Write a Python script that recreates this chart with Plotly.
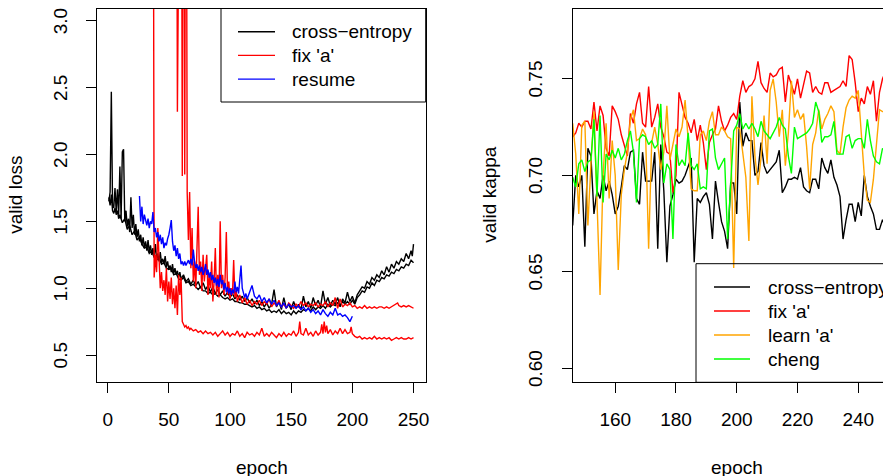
import plotly.graph_objects as go

# page pixels are mapped to figure pixels (page body has an 8px margin)
OFF = 8
W, H = 891 - OFF, 476 - OFF
FONT = "Liberation Sans, Arial, Helvetica, sans-serif"
FS = 19

# ---------------- left panel: valid loss ----------------
ce1_epoch = [1,2,3,4,5,6,7,8,9,10,11,12,13,14,15,16,17,18,19,20,21,22,23,24,25,26,27,28,29,30,
             31,32,33,34,35,36,37,38,39,40,41,42,43,44,45,46,47,48,49,50,51,52,53,54,55,56,57,58,59,60,
             62,64,66,68,70,72,74,76,78,80,82,84,86,88,90,92,94,96,98,100,102,104,106,108,110,112,114,116,118,120,
             122,124,126,128,130,132,134,136,138,140,142,144,146,148,150,152,154,156,158,160,162,164,166,168,170,
             172,174,176,178,180,182,184,186,188,190,192,194,196,198,200,202,204,206,208,210,212,214,216,218,220,
             222,224,226,228,230,232,234,236,238,240,242,244,246,248,249,250]
ce1_loss = [1.65,1.72,2.47,1.62,1.60,1.75,1.57,1.74,1.55,1.91,1.52,2.02,2.04,1.50,1.58,1.46,1.52,1.42,1.68,1.45,
            1.55,1.40,1.48,1.38,1.44,1.35,1.40,1.32,1.38,1.30,1.35,1.28,1.36,1.27,1.32,1.25,1.30,1.24,1.33,1.22,
            1.26,1.20,1.27,1.19,1.22,1.18,1.24,1.16,1.20,1.14,1.17,1.12,1.18,1.11,1.15,1.10,1.13,1.08,1.12,1.07,
            1.10,1.05,1.07,1.03,1.06,1.02,1.05,1.00,1.04,0.99,1.02,0.97,1.01,0.96,0.99,0.95,0.98,0.94,0.97,0.93,
            0.96,0.92,0.95,0.91,0.94,0.90,0.93,0.89,0.92,0.88,0.91,0.87,0.90,0.86,0.89,0.85,0.88,0.99,0.86,0.90,
            0.84,0.93,0.85,0.88,0.84,0.90,0.85,0.88,0.84,0.94,0.86,0.90,0.85,0.93,0.87,0.91,0.86,0.98,0.88,0.93,
            0.87,0.91,0.88,0.93,0.86,0.92,0.89,0.97,0.90,0.94,0.89,0.95,0.98,1.01,1.00,1.05,1.03,1.08,1.06,1.10,
            1.08,1.13,1.10,1.16,1.12,1.18,1.15,1.20,1.18,1.22,1.20,1.26,1.22,1.28,1.24,1.33]

ce2_epoch = [1,2,3,4,5,6,7,8,9,10,12,14,16,18,20,22,24,26,28,30,32,34,36,38,40,42,44,46,48,50,52,54,56,58,60,
             62,64,66,68,70,72,74,76,78,80,82,84,86,88,90,92,94,96,98,100,102,104,106,108,110,112,114,116,118,120,
             122,124,126,128,130,132,134,136,138,140,142,144,146,148,150,152,154,156,158,160,162,164,166,168,170,
             172,174,176,178,180,182,184,186,188,190,192,194,196,198,200,202,204,206,208,210,212,214,216,218,220,
             222,224,226,228,230,232,234,236,238,240,242,244,246,248,250]
ce2_loss = [1.68,1.62,1.70,1.58,1.56,1.60,1.55,1.58,1.52,1.55,1.49,1.52,1.44,1.47,1.40,1.43,1.36,1.38,1.33,1.30,
            1.31,1.26,1.28,1.23,1.21,1.23,1.18,1.19,1.15,1.14,1.15,1.10,1.11,1.07,1.06,1.08,1.04,1.05,1.02,1.03,
            1.01,0.99,1.01,0.98,0.98,0.96,0.97,0.95,0.96,0.94,0.95,0.93,0.92,0.93,0.91,0.92,0.90,0.90,0.89,0.89,
            0.88,0.88,0.87,0.86,0.87,0.85,0.86,0.84,0.85,0.83,0.84,0.82,0.83,0.82,0.84,0.81,0.83,0.81,0.82,0.80,
            0.83,0.81,0.83,0.82,0.84,0.83,0.85,0.83,0.86,0.84,0.86,0.85,0.87,0.85,0.88,0.86,0.88,0.87,0.89,0.87,
            0.90,0.88,0.90,0.88,0.91,0.88,0.93,0.95,0.98,0.97,1.01,1.00,1.04,1.02,1.06,1.05,1.08,1.07,1.10,1.09,
            1.12,1.11,1.14,1.13,1.16,1.15,1.18,1.17,1.21,1.19]

fix1_epoch = [37,38,39,40,41,42,43,44,45,46,47,48,49,50,51,52,53,54,55,56,57,58,59,60,61,62,63,64,65,66,67,68,
              70,72,74,76,78,80,82,84,86,88,90,92,94,96,98,100,102,104,106,108,110,112,114,116,118,120,122,124,126,
              128,130,132,134,136,138,140,142,144,146,148,150,152,154,156,157,158,160,162,164,166,168,170,172,174,
              175,176,177,178,179,180,182,184,186,188,190,192,194,196,198,199,200,202,204,206,208,210,212,214,216,
              218,220,222,224,226,228,230,232,234,236,238,240,242,244,246,248,250]
fix1_loss = [6.0,1.08,1.25,1.12,1.45,1.20,1.00,1.12,0.98,1.06,0.95,1.15,0.90,1.05,0.92,1.08,0.88,1.00,0.85,1.02,
             0.80,1.10,0.95,1.08,0.75,0.73,0.71,0.72,0.70,0.71,0.69,0.70,0.68,0.69,0.67,0.68,0.66,0.68,0.66,0.67,
             0.65,0.67,0.64,0.66,0.68,0.65,0.67,0.64,0.66,0.65,0.68,0.64,0.66,0.63,0.67,0.65,0.66,0.64,0.67,0.65,
             0.70,0.64,0.66,0.64,0.67,0.65,0.63,0.66,0.64,0.67,0.64,0.66,0.65,0.68,0.64,0.67,0.75,0.66,0.65,0.70,
             0.65,0.67,0.64,0.68,0.65,0.67,0.73,0.66,0.75,0.67,0.72,0.66,0.69,0.65,0.68,0.66,0.70,0.66,0.69,0.66,
             0.67,0.71,0.66,0.64,0.63,0.64,0.62,0.63,0.62,0.63,0.62,0.64,0.62,0.63,0.62,0.63,0.62,0.63,0.61,0.62,
             0.63,0.62,0.63,0.62,0.62,0.63,0.62,0.63]

fix2_epoch = [56,57,58,59,60,61,62,63,64,65,66,67,68,69,70,71,72,73,74,75,76,77,78,79,80,81,82,83,84,85,86,87,
              88,89,90,91,92,93,94,95,96,97,98,99,100,101,102,103,104,105,106,108,110,112,114,116,118,120,122,124,
              126,128,130,132,134,136,138,140,142,144,146,148,150,152,154,156,158,160,162,164,166,168,170,172,174,
              176,178,180,182,184,186,188,190,192,194,196,198,200,202,204,206,208,210,212,214,216,218,220,222,224,
              226,228,230,232,234,236,237,238,240,242,244,246,248,250]
fix2_loss = [6.0,2.32,6.0,6.0,6.0,1.84,6.0,1.85,6.0,1.72,1.36,1.72,1.15,1.45,1.05,1.20,1.00,1.30,1.61,1.10,
             1.20,0.98,1.25,1.05,1.15,1.25,0.95,1.10,1.00,1.20,0.90,1.05,1.30,0.95,1.10,0.93,1.50,1.00,1.10,0.95,
             1.08,1.42,0.95,1.05,0.92,1.00,0.95,1.21,0.93,0.98,0.90,0.95,0.89,0.93,0.88,0.91,0.87,0.90,0.88,0.91,
             0.87,0.90,0.88,0.92,0.86,0.89,0.87,0.91,0.86,0.88,0.85,0.89,0.87,0.85,0.88,0.86,0.90,0.87,0.89,0.86,
             0.88,0.87,0.89,0.86,0.88,0.87,0.90,0.86,0.89,0.87,0.93,0.85,0.92,0.86,0.88,0.87,0.89,0.86,0.87,0.85,
             0.86,0.85,0.87,0.85,0.86,0.85,0.86,0.85,0.86,0.86,0.85,0.86,0.85,0.86,0.87,0.88,0.89,0.87,0.86,0.87,
             0.86,0.87,0.86,0.85]

resume_epoch = [26,27,28,29,30,31,32,33,34,35,36,37,38,39,40,41,42,43,44,45,46,47,48,49,50,51,52,53,54,55,56,57,
                58,59,60,61,62,63,64,65,66,67,68,69,70,71,72,73,74,75,76,77,78,79,80,81,82,83,84,85,86,87,88,89,90,
                91,92,93,94,95,96,97,98,99,100,101,102,103,104,105,106,107,108,109,110,111,112,113,114,116,118,119,
                120,122,124,126,128,130,132,134,136,138,140,142,144,146,148,150,152,154,156,158,160,162,164,166,168,
                170,172,174,176,178,180,182,184,186,188,190,192,194,196,198,199,200]
resume_loss = [1.69,1.50,1.61,1.48,1.55,1.50,1.47,1.52,1.45,1.50,1.48,1.57,1.42,1.45,1.38,1.42,1.35,1.40,1.33,1.38,
               1.30,1.34,1.32,1.37,1.40,1.45,1.51,1.35,1.28,1.32,1.24,1.30,1.22,1.26,1.18,1.20,1.17,1.20,1.17,1.19,
               1.21,1.18,1.22,1.17,1.29,1.20,1.15,1.18,1.13,1.17,1.12,1.16,1.10,1.13,1.18,1.10,1.14,1.08,1.12,1.06,
               1.10,1.04,1.08,1.02,1.07,1.01,1.10,1.03,1.06,0.99,1.04,0.97,1.01,0.96,1.00,0.95,0.99,0.96,1.05,0.97,
               1.01,0.96,1.08,1.17,1.00,0.95,0.93,0.96,0.92,0.97,1.02,0.98,0.94,0.92,0.95,0.90,0.93,0.89,0.92,0.88,
               0.91,0.87,0.89,0.86,0.89,0.85,0.88,0.86,0.87,0.85,0.87,0.84,0.86,0.83,0.85,0.82,0.84,0.81,0.83,0.80,
               0.84,0.81,0.79,0.82,0.80,0.85,0.80,0.81,0.79,0.80,0.78,0.75,0.77,0.79]

# ---------------- right panel: valid kappa ----------------
kappa_epoch = list(range(146, 252))
kappa_ce = [0.674,0.700,0.694,0.700,0.663,0.714,0.710,0.680,0.692,0.688,0.700,0.692,0.697,0.690,0.680,0.684,
            0.694,0.705,0.703,0.712,0.713,0.688,0.685,0.712,0.697,0.697,0.697,0.712,0.662,0.716,0.692,0.655,
            0.684,0.690,0.698,0.696,0.697,0.700,0.705,0.709,0.655,0.688,0.686,0.689,0.691,0.685,0.667,0.697,
            0.686,0.676,0.671,0.662,0.696,0.696,0.680,0.738,0.715,0.722,0.718,0.718,0.700,0.702,0.717,0.705,
            0.701,0.703,0.705,0.707,0.713,0.691,0.694,0.698,0.698,0.699,0.698,0.704,0.694,0.692,0.691,0.698,
            0.698,0.693,0.709,0.704,0.701,0.708,0.699,0.695,0.689,0.667,0.677,0.685,0.685,0.676,0.686,0.679,
            0.700,0.689,0.684,0.680,0.672,0.672,0.677,0.673,0.682,0.679]
kappa_fix = [0.720,0.722,0.727,0.725,0.728,0.728,0.724,0.738,0.723,0.736,0.731,0.714,0.710,0.736,0.733,0.729,
             0.721,0.715,0.710,0.732,0.727,0.737,0.743,0.727,0.725,0.746,0.725,0.730,0.737,0.725,0.720,0.712,
             0.711,0.691,0.700,0.743,0.737,0.730,0.727,0.722,0.729,0.718,0.726,0.717,0.703,0.717,0.721,0.724,
             0.736,0.728,0.723,0.726,0.730,0.732,0.729,0.741,0.749,0.743,0.746,0.747,0.750,0.759,0.748,0.745,
             0.743,0.753,0.751,0.752,0.755,0.756,0.738,0.752,0.747,0.742,0.750,0.740,0.747,0.754,0.753,0.743,
             0.746,0.743,0.742,0.748,0.748,0.743,0.744,0.745,0.746,0.749,0.746,0.762,0.760,0.748,0.733,0.740,
             0.737,0.746,0.742,0.749,0.728,0.743,0.750,0.754,0.758,0.758]
kappa_learn = [0.727,0.711,0.680,0.726,0.728,0.674,0.706,0.733,0.687,0.638,0.700,0.727,0.688,0.718,0.700,0.651,
               0.690,0.703,0.712,0.729,0.734,0.718,0.719,0.724,0.721,0.662,0.717,0.725,0.716,0.703,0.712,0.736,
               0.708,0.717,0.724,0.720,0.725,0.739,0.719,0.693,0.692,0.692,0.721,0.723,0.718,0.728,0.733,0.721,
               0.721,0.725,0.723,0.720,0.719,0.652,0.725,0.724,0.710,0.699,0.666,0.741,0.710,0.695,0.709,0.731,
               0.706,0.744,0.750,0.738,0.720,0.734,0.705,0.722,0.749,0.730,0.734,0.729,0.732,0.715,0.693,0.716,
               0.722,0.734,0.724,0.729,0.732,0.736,0.733,0.713,0.711,0.725,0.735,0.739,0.741,0.740,0.744,0.723,
               0.700,0.687,0.686,0.698,0.717,0.734,0.733,0.733,0.733,0.733]
kappa_cheng = [0.699,0.694,0.706,0.708,0.702,0.707,0.708,0.729,0.689,0.731,0.686,0.711,0.708,0.713,0.709,0.714,
               0.708,0.711,0.718,0.723,0.712,0.686,0.719,0.721,0.720,0.716,0.718,0.714,0.716,0.737,0.696,0.706,
               0.703,0.667,0.716,0.705,0.708,0.705,0.722,0.705,0.703,0.706,0.693,0.694,0.693,0.723,0.724,0.709,
               0.703,0.706,0.709,0.667,0.696,0.723,0.726,0.732,0.724,0.727,0.724,0.727,0.724,0.720,0.728,0.723,
               0.721,0.719,0.722,0.725,0.730,0.726,0.724,0.710,0.701,0.725,0.719,0.720,0.721,0.722,0.724,0.727,
               0.738,0.733,0.717,0.720,0.720,0.721,0.728,0.711,0.711,0.711,0.720,0.721,0.714,0.718,0.719,0.719,
               0.714,0.729,0.718,0.710,0.707,0.706,0.714,0.712,0.720,0.720]

loss_ticks = [0.5, 1.0, 1.5, 2.0, 2.5, 3.0]
loss_ticktext = ["0.5", "1.0", "1.5", "2.0", "2.5", "3.0"]
epoch_ticks_left = [0, 50, 100, 150, 200, 250]
kappa_ticks = [0.60, 0.65, 0.70, 0.75]
kappa_ticktext = ["0.60", "0.65", "0.70", "0.75"]
epoch_ticks_right = [160, 180, 200, 220, 240]

BLACK, RED, BLUE, ORANGE, GREEN = "#000000", "#FF0000", "#0000FF", "#FFA500", "#00FF00"
LW = 1.4

fig = go.Figure()
def add(x, y, color, xa, ya):
    fig.add_trace(go.Scatter(x=x, y=y, mode="lines", line=dict(color=color, width=LW),
                             xaxis=xa, yaxis=ya, showlegend=False, hoverinfo="skip"))

add(ce1_epoch, ce1_loss, BLACK, "x", "y")
add(ce2_epoch, ce2_loss, BLACK, "x", "y")
add(fix1_epoch, fix1_loss, RED, "x", "y")
add(fix2_epoch, fix2_loss, RED, "x", "y")
add(resume_epoch, resume_loss, BLUE, "x", "y")

add(kappa_epoch, kappa_ce, BLACK, "x2", "y2")
add(kappa_epoch, kappa_fix, RED, "x2", "y2")
add(kappa_epoch, kappa_learn, ORANGE, "x2", "y2")
add(kappa_epoch, kappa_cheng, GREEN, "x2", "y2")

def px(x): return min(1.0, max(0.0, (x - OFF) / W))
def py(y): return min(1.0, max(0.0, 1 - (y - OFF) / H))
def pxs(x): return (x - OFF) / W
def pys(y): return 1 - (y - OFF) / H

tickfont = dict(family=FONT, size=FS, color="black")
axcommon = dict(showgrid=False, zeroline=False, showline=True, linecolor="black", linewidth=1,
                ticks="outside", ticklen=10, tickwidth=1, tickcolor="black", tickfont=tickfont,
                fixedrange=True, ticklabeloverflow="allow")

TOP = 8.5
ydom = [py(382.3), py(TOP)]
# axis ranges chosen so the tick values sit on their reference pixel rows
fig.update_layout(
    width=W, height=H, margin=dict(l=0, r=0, t=0, b=0, autoexpand=False),
    paper_bgcolor="white", plot_bgcolor="white", showlegend=False,
    xaxis=dict(domain=[px(97.2), px(425.7)], range=[-8.55, 259.96], tickvals=epoch_ticks_left,
               mirror=True, anchor="y", ticklabelstandoff=10, **axcommon),
    yaxis=dict(domain=ydom, range=[0.296, 3.104 - (TOP - 7) / 133.7], tickvals=loss_ticks, ticktext=loss_ticktext,
               tickangle=-90, mirror=True, anchor="x", ticklabelstandoff=12, ticklabelshift=3, **axcommon),
    xaxis2=dict(domain=[px(572.7), 1.0], range=[146, 250.79], tickvals=epoch_ticks_right,
                mirror=True, anchor="y2", ticklabelstandoff=10, **axcommon),
    yaxis2=dict(domain=ydom, range=[0.5928, 0.7872 - (TOP - 7) / 1931], tickvals=kappa_ticks, ticktext=kappa_ticktext,
                tickangle=-90, mirror=False, anchor="x2", ticklabelstandoff=12, ticklabelshift=3, **axcommon),
)

anns = []
def text(x, y, s, angle=0, xanchor="center"):
    anns.append(dict(x=pxs(x), y=pys(y), xref="paper", yref="paper", text=s, showarrow=False,
                     textangle=angle, xanchor=xanchor, yanchor="middle",
                     font=dict(family=FONT, size=FS, color="black")))

text(16, 194.7, "valid loss", angle=-90)
text(490, 194.7, "valid kappa", angle=-90)
text(261.7, 467, "epoch")
text(736.8, 467, "epoch")

shapes = []
# legend boxes
shapes.append(dict(type="rect", xref="paper", yref="paper", x0=pxs(221), x1=pxs(425.7), y0=pys(102), y1=py(TOP),
                   line=dict(color="black", width=1), fillcolor="rgba(0,0,0,0)"))
shapes.append(dict(type="rect", xref="paper", yref="paper", x0=pxs(696), x1=pxs(940), y0=pys(382.3), y1=pys(263.7),
                   line=dict(color="black", width=1), fillcolor="rgba(0,0,0,0)"))

left_leg = [("cross\u2212entropy", BLACK), ("fix 'a'", RED), ("resume", BLUE)]
for i, (lab, col) in enumerate(left_leg):
    yy = 31.7 + i * 23.7
    shapes.append(dict(type="line", xref="paper", yref="paper", x0=pxs(238), x1=pxs(275), y0=pys(yy), y1=pys(yy),
                       line=dict(color=col, width=LW)))
    text(290, yy, lab, xanchor="left")

right_leg = [("cross\u2212entropy", BLACK), ("fix 'a'", RED), ("learn 'a'", ORANGE), ("cheng", GREEN)]
for i, (lab, col) in enumerate(right_leg):
    yy = 287 + i * 24
    shapes.append(dict(type="line", xref="paper", yref="paper", x0=pxs(714), x1=pxs(750), y0=pys(yy), y1=pys(yy),
                       line=dict(color=col, width=LW)))
    text(765.7, yy, lab, xanchor="left")

fig.update_layout(annotations=anns, shapes=shapes)
fig.write_html("out.html")
